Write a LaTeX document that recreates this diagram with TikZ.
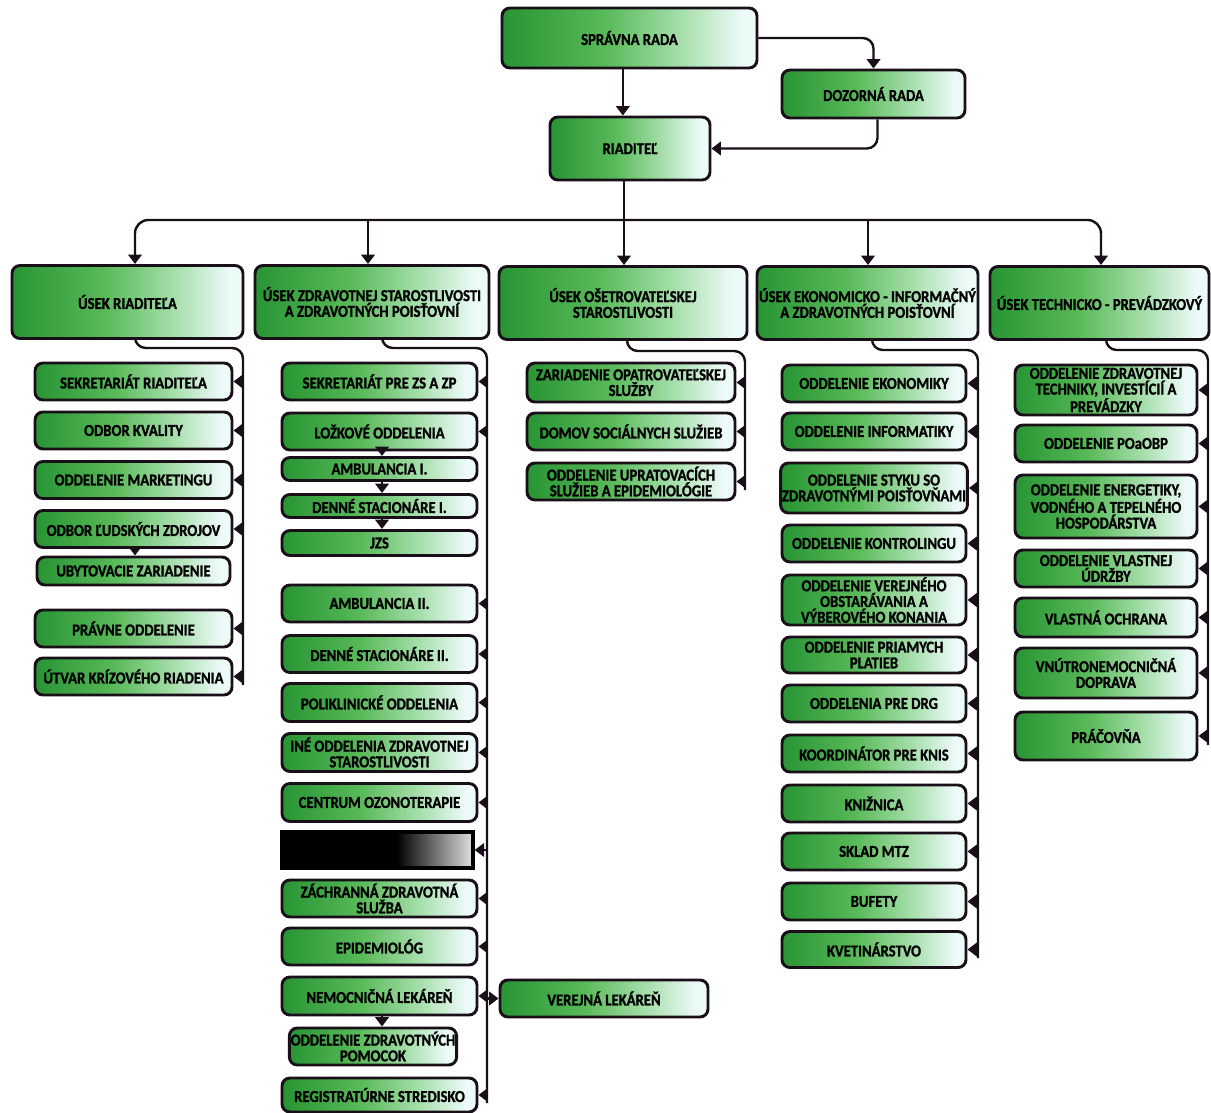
\documentclass[tikz,border=0pt]{standalone}
\usepackage{fontspec}
\setmainfont{Carlito}[FakeStretch=0.88, BoldFont={Carlito Bold}, BoldFeatures={FakeBold=1.2}]
\usetikzlibrary{arrows.meta}
\definecolor{gA}{RGB}{40,148,52}
\definecolor{gB}{RGB}{88,185,88}
\definecolor{gC}{RGB}{165,222,170}
\definecolor{gD}{RGB}{236,250,248}
\definecolor{lnc}{RGB}{25,15,25}
\pgfdeclarehorizontalshading{boxsh}{100bp}{color(0bp)=(gA); color(25bp)=(gA); color(45bp)=(gB); color(60bp)=(gC); color(72bp)=(gD); color(100bp)=(gD)}
\pgfdeclarehorizontalshading{blksh}{100bp}{color(0bp)=(black); color(25bp)=(black); color(55bp)=(black); color(75bp)=(black!12); color(100bp)=(black!12)}
\tikzset{
  box/.style={draw=lnc, line width=2.2pt, rounded corners=6pt, shading=boxsh, align=center,
    inner sep=1pt, font=\bfseries\fontsize{12.5}{11.8}\selectfont},
  conn/.style={draw=lnc, line width=1.8pt},
  arr/.style={conn, -{Triangle[width=10pt,length=7pt]}}
}
\newcommand\obox[6]{\node[box, minimum width=#4*0.75pt, minimum height=#5*0.75pt] (#1) at (#2,#3) {#6};}
\begin{document}
\begin{tikzpicture}[x=0.75pt,y=-0.75pt]
\useasboundingbox (0,0) rectangle (1211,1113);
% top
\obox{sr}{629.5}{38}{255}{60}{SPRÁVNA RADA}
\obox{dr}{873.5}{94}{183}{48}{DOZORNÁ RADA}
\obox{rd}{630}{148.5}{160}{63}{RIADITEĽ}
% sections
\obox{s1}{127.5}{302}{231}{73}{ÚSEK RIADITEĽA}
\obox{s2}{372}{302}{234}{73}{ÚSEK ZDRAVOTNEJ STAROSTLIVOSTI\\A ZDRAVOTNÝCH POISŤOVNÍ}
\obox{s3}{623}{303}{248}{73}{ÚSEK OŠETROVATEĽSKEJ\\STAROSTLIVOSTI}
\obox{s4}{867.5}{303}{221}{73}{ÚSEK EKONOMICKO - INFORMAČNÝ\\A ZDRAVOTNÝCH POISŤOVNÍ}
\obox{s5}{1099.5}{303}{219}{73}{ÚSEK TECHNICKO - PREVÁDZKOVÝ}
% column 1
\obox{c1a}{133.5}{381.5}{197}{37}{SEKRETARIÁT RIADITEĽA}
\obox{c1b}{133.5}{430.5}{197}{37}{ODBOR KVALITY}
\obox{c1c}{133.5}{480}{197}{37}{ODDELENIE MARKETINGU}
\obox{c1d}{133.5}{529}{197}{37}{ODBOR ĽUDSKÝCH ZDROJOV}
\obox{c1e}{133.5}{571}{193}{28}{UBYTOVACIE ZARIADENIE}
\obox{c1f}{133.5}{628.5}{197}{37}{PRÁVNE ODDELENIE}
\obox{c1g}{133.5}{676.5}{197}{37}{ÚTVAR KRÍZOVÉHO RIADENIA}
% column 2
\obox{c2a}{379.5}{381.5}{195}{37}{SEKRETARIÁT PRE ZS A ZP}
\obox{c2b}{379.5}{431.5}{195}{37}{LOŽKOVÉ ODDELENIA}
\obox{c2c}{379.5}{469}{195}{23}{AMBULANCIA I.}
\obox{c2d}{379.5}{506}{195}{23}{DENNÉ STACIONÁRE I.}
\obox{c2e}{379.5}{543}{195}{25}{JZS}
\obox{c2f}{379.5}{603.5}{195}{37}{AMBULANCIA II.}
\obox{c2g}{379.5}{654}{195}{37}{DENNÉ STACIONÁRE II.}
\obox{c2h}{379.5}{702.5}{195}{38}{POLIKLINICKÉ ODDELENIA}
\obox{c2i}{379.5}{752.5}{195}{38}{INÉ ODDELENIA ZDRAVOTNEJ\\STAROSTLIVOSTI}
\obox{c2j}{379.5}{802.5}{195}{38}{CENTRUM OZONOTERAPIE}
\node[draw=black, line width=2.5pt, shading=blksh, minimum width=191*0.75pt, minimum height=36*0.75pt] (c2k) at (377.5,850) {};
\obox{c2l}{379.5}{898.5}{195}{37}{ZÁCHRANNÁ ZDRAVOTNÁ\\SLUŽBA}
\obox{c2m}{379.5}{946.5}{195}{37}{EPIDEMIOLÓG}
\obox{c2n}{379.5}{996}{195}{38}{NEMOCNIČNÁ LEKÁREŇ}
\obox{c2o}{373}{1046.5}{160}{37}{ODDELENIE ZDRAVOTNÝCH\\POMOCOK}
\obox{c2p}{379.5}{1095}{195}{34}{REGISTRATÚRNE STREDISKO}
\obox{vl}{604}{998.5}{208}{37}{VEREJNÁ LEKÁREŇ}
% column 3
\obox{c3a}{631}{382.5}{208}{39}{ZARIADENIE OPATROVATEĽSKEJ\\SLUŽBY}
\obox{c3b}{631}{431.5}{208}{37}{DOMOV SOCIÁLNYCH SLUŽIEB}
\obox{c3c}{631}{481.5}{208}{37}{ODDELENIE UPRATOVACÍCH\\SLUŽIEB A EPIDEMIOLÓGIE}
% column 4
\obox{c4a}{874}{383.5}{184}{37}{ODDELENIE EKONOMIKY}
\obox{c4b}{874}{431.5}{184}{37}{ODDELENIE INFORMATIKY}
\obox{c4c}{874}{488}{184}{50}{ODDELENIE STYKU SO\\ZDRAVOTNÝMI POISŤOVŇAMI}
\obox{c4d}{874}{543.5}{184}{37}{ODDELENIE KONTROLINGU}
\obox{c4e}{874}{600}{184}{50}{ODDELENIE VEREJNÉHO\\OBSTARÁVANIA A\\VÝBEROVÉHO KONANIA}
\obox{c4f}{874}{655}{184}{36}{ODDELENIE PRIAMYCH\\PLATIEB}
\obox{c4g}{874}{703.5}{184}{37}{ODDELENIA PRE DRG}
\obox{c4h}{874}{753.5}{184}{37}{KOORDINÁTOR PRE KNIS}
\obox{c4i}{874}{803.5}{184}{37}{KNIŽNICA}
\obox{c4j}{874}{851.5}{184}{37}{SKLAD MTZ}
\obox{c4k}{874}{901.5}{184}{37}{BUFETY}
\obox{c4l}{874}{949.5}{184}{36}{KVETINÁRSTVO}
% column 5
\obox{c5a}{1106}{390}{182}{50}{ODDELENIE ZDRAVOTNEJ\\TECHNIKY, INVESTÍCIÍ A\\PREVÁDZKY}
\obox{c5b}{1106}{443.5}{182}{37}{ODDELENIE POaOBP}
\obox{c5c}{1106}{506.5}{182}{63}{ODDELENIE ENERGETIKY,\\VODNÉHO A TEPELNÉHO\\HOSPODÁRSTVA}
\obox{c5d}{1106}{568.5}{182}{37}{ODDELENIE VLASTNEJ\\ÚDRŽBY}
\obox{c5e}{1106}{617.5}{182}{39}{VLASTNÁ OCHRANA}
\obox{c5f}{1106}{673}{182}{50}{VNÚTRONEMOCNIČNÁ\\DOPRAVA}
\obox{c5g}{1106}{736}{182}{48}{PRÁČOVŇA}
% ---------- connectors top
\draw[arr] ([xshift=-5pt]sr.south) -- ([xshift=-5pt]sr.south |- rd.north);
\draw[arr, rounded corners=8pt] (sr.east) -| (dr.north);
\draw[arr, rounded corners=8pt] ([xshift=3pt]dr.south) |- (rd.east);
\coordinate (hub) at (624,220);
\coordinate (t1) at (135,0);
\coordinate (t2) at (368,0);
\coordinate (t4) at (868,0);
\coordinate (t5) at (1101,0);
\draw[conn] ([xshift=-4.5pt]rd.south) -- (hub);
\draw[arr, rounded corners=10pt] (hub) -| (t1 |- s1.north);
\draw[arr] (hub) -| (t2 |- s2.north);
\draw[arr] (hub) -- (hub |- s3.north);
\draw[arr] (hub) -| (t4 |- s4.north);
\draw[arr, rounded corners=10pt] (hub) -| (t5 |- s5.north);
% ---------- column buses
\coordinate (k1) at (135,348);  \coordinate (e1) at (243,685);
\coordinate (k2) at (382,348);  \coordinate (e2) at (487,1103);
\coordinate (k3) at (627,351);  \coordinate (e3) at (745,490);
\coordinate (k4) at (872,350);  \coordinate (e4) at (978,958);
\coordinate (k5) at (1106,350); \coordinate (e5) at (1208,745);
\foreach \i in {1,...,5}{
  \draw[conn, rounded corners=8pt] (k\i |- s\i.south) -- (k\i) -- (k\i -| e\i) -- (e\i);
}
\foreach \n in {c1a,c1b,c1c,c1d,c1f,c1g}{\draw[arr] (\n.east -| e1) -- (\n.east);}
\foreach \n in {c2a,c2b,c2f,c2g,c2h,c2i,c2j,c2k,c2l,c2m,c2n,c2p}{\draw[arr] (\n.east -| e2) -- (\n.east);}
\foreach \n in {c3a,c3b,c3c}{\draw[arr] (\n.east -| e3) -- (\n.east);}
\foreach \n in {c4a,c4b,c4c,c4d,c4e,c4f,c4g,c4h,c4i,c4j,c4k,c4l}{\draw[arr] (\n.east -| e4) -- (\n.east);}
\foreach \n in {c5a,c5b,c5c,c5d,c5e,c5f,c5g}{\draw[arr] (\n.east -| e5) -- (\n.east);}
\draw[arr] (vl.west -| e2) -- (vl.west);
% ---------- in-column sub arrows
\draw[arr] (c1d.south -| k1) -- (c1e.north -| k1);
\draw[arr] (c2b.south -| k2) -- (c2c.north -| k2);
\draw[arr] (c2c.south -| k2) -- (c2d.north -| k2);
\draw[arr] (c2d.south -| k2) -- (c2e.north -| k2);
\draw[arr] (c2n.south -| k2) -- (c2o.north -| k2);
\end{tikzpicture}
\end{document}
